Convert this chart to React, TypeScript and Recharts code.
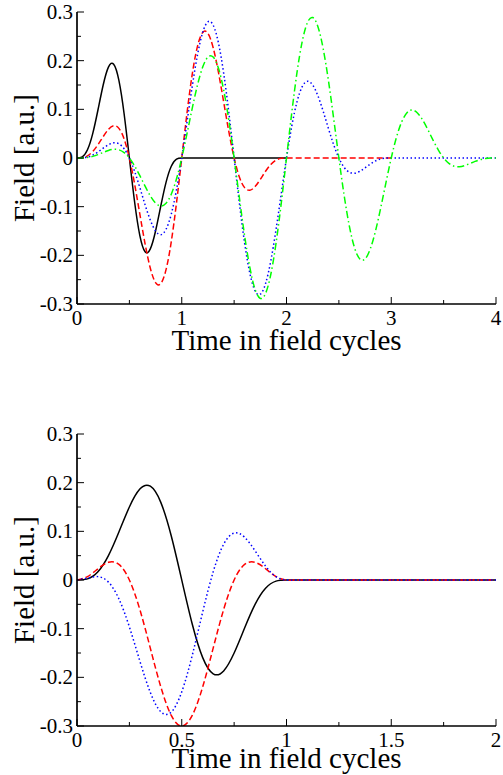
import React from "react";
import { LineChart, Line, XAxis, YAxis } from "recharts";

const FONT = '"Liberation Serif", "Times New Roman", Times, serif';

// time axis in field cycles (upper panel 0..4, lower panel 0..2)
const topTime = [
  0, 0.05, 0.1, 0.15, 0.2, 0.25, 0.3, 0.35, 0.4, 0.45, 0.5, 0.55, 0.6, 0.65, 0.7, 0.75, 0.8, 0.85, 0.9, 0.95,
  1, 1.05, 1.1, 1.15, 1.2, 1.25, 1.3, 1.35, 1.4, 1.45, 1.5, 1.55, 1.6, 1.65, 1.7, 1.75, 1.8, 1.85, 1.9, 1.95,
  2, 2.05, 2.1, 2.15, 2.2, 2.25, 2.3, 2.35, 2.4, 2.45, 2.5, 2.55, 2.6, 2.65, 2.7, 2.75, 2.8, 2.85, 2.9, 2.95,
  3, 3.05, 3.1, 3.15, 3.2, 3.25, 3.3, 3.35, 3.4, 3.45, 3.5, 3.55, 3.6, 3.65, 3.7, 3.75, 3.8, 3.85, 3.9, 3.95,
  4,
];
const bottomTime = [
  0, 0.05, 0.1, 0.15, 0.2, 0.25, 0.3, 0.35, 0.4, 0.45, 0.5, 0.55, 0.6, 0.65, 0.7, 0.75, 0.8, 0.85, 0.9, 0.95,
  1, 1.05, 1.1, 1.15, 1.2, 1.25, 1.3, 1.35, 1.4, 1.45, 1.5, 1.55, 1.6, 1.65, 1.7, 1.75, 1.8, 1.85, 1.9, 1.95,
  2,
];

// upper panel: 1, 2, 3 and 4 cycle pulses
const topOneCycle = [
  0, 0.00227, 0.01684, 0.05002, 0.09858, 0.15, 0.18675, 0.19268, 0.1595, 0.09043,
  0, -0.09043, -0.1595, -0.19268, -0.18675, -0.15, -0.09858, -0.05002, -0.01684, -0.00227,
  0, 0, 0, 0, 0, 0, 0, 0, 0, 0, 0, 0, 0, 0, 0, 0, 0, 0, 0, 0, 0,
];
const topTwoCycle = [
  0, 0.00057, 0.00431, 0.01323, 0.02725, 0.04393, 0.05881, 0.06626, 0.06092, 0.0391,
  0, -0.0536, -0.11542, -0.17644, -0.22652, -0.25607, -0.25808, -0.22947, -0.17202, -0.09213,
  0, 0.09213, 0.17202, 0.22947, 0.25808, 0.25607, 0.22652, 0.17644, 0.11542, 0.0536,
  0, -0.0391, -0.06092, -0.06626, -0.05881, -0.04393, -0.02725, -0.01323, -0.00431, -0.00057,
  0, 0, 0, 0, 0, 0, 0, 0, 0, 0, 0, 0, 0, 0, 0, 0, 0, 0, 0, 0, 0,
];
const topThreeCycle = [
  0, 0.00025, 0.00193, 0.00594, 0.01233, 0.0201, 0.02725, 0.03117, 0.02917, 0.01911,
  0, -0.0275, -0.06092, -0.09612, -0.12775, -0.15, -0.15758, -0.14658, -0.11542, -0.0652,
  0, 0.07359, 0.14717, 0.21153, 0.25808, 0.2799, 0.273, 0.23676, 0.17441, 0.09245,
  0, -0.09245, -0.17441, -0.23676, -0.273, -0.2799, -0.25808, -0.21153, -0.14717, -0.07359,
  0, 0.0652, 0.11542, 0.14658, 0.15758, 0.15, 0.12775, 0.09612, 0.06092, 0.0275,
  0, -0.01911, -0.02917, -0.03117, -0.02725, -0.0201, -0.01233, -0.00594, -0.00193, -0.00025,
  0, 0, 0, 0, 0, 0, 0, 0, 0, 0, 0, 0, 0, 0, 0, 0, 0, 0, 0, 0, 0,
];
const topFourCycle = [
  0, 0.00014, 0.00109, 0.00335, 0.00698, 0.01142, 0.01555, 0.01788, 0.01684, 0.01111,
  0, -0.01625, -0.03635, -0.05795, -0.0779, -0.0926, -0.09858, -0.09302, -0.07438, -0.04271,
  0, 0.04999, 0.10196, 0.14968, 0.18675, 0.2074, 0.20743, 0.18476, 0.14, 0.07645,
  0, -0.08159, -0.1595, -0.22482, -0.26978, -0.28858, -0.27835, -0.23935, -0.17525, -0.09256,
  0, 0.09256, 0.17525, 0.23935, 0.27835, 0.28858, 0.26978, 0.22482, 0.1595, 0.08159,
  0, -0.07645, -0.14, -0.18476, -0.20743, -0.2074, -0.18675, -0.14968, -0.10196, -0.04999,
  0, 0.04271, 0.07438, 0.09302, 0.09858, 0.0926, 0.0779, 0.05795, 0.03635, 0.01625,
  0, -0.01111, -0.01684, -0.01788, -0.01555, -0.01142, -0.00698, -0.00335, -0.00109, -0.00014,
  0,
];

// lower panel: one cycle pulse, three carrier phases
const bottomSine = [
  0, 0.00227, 0.01684, 0.05002, 0.09858, 0.15, 0.18675, 0.19268, 0.1595, 0.09043,
  0, -0.09043, -0.1595, -0.19268, -0.18675, -0.15, -0.09858, -0.05002, -0.01684, -0.00227,
  0, 0, 0, 0, 0, 0, 0, 0, 0, 0, 0, 0, 0, 0, 0, 0, 0, 0, 0, 0, 0,
];
const bottomCosine = [
  0, 0.00698, 0.02318, 0.03634, 0.03203, 0, -0.06067, -0.14, -0.21952, -0.27835,
  -0.3, -0.27835, -0.21952, -0.14, -0.06067, 0, 0.03203, 0.03634, 0.02318, 0.00698,
  0, 0, 0, 0, 0, 0, 0, 0, 0, 0, 0, 0, 0, 0, 0, 0, 0, 0, 0, 0, 0,
];
const bottomShifted = [
  0, 0.00389, 0.00693, -0.00432, -0.03883, -0.09642, -0.1665, -0.2311, -0.2707, -0.27135,
  -0.2298, -0.15508, -0.06564, 0.01662, 0.07355, 0.09642, 0.0879, 0.05999, 0.02858, 0.00681,
  0, 0, 0, 0, 0, 0, 0, 0, 0, 0, 0, 0, 0, 0, 0, 0, 0, 0, 0, 0, 0,
];

const topXTicks = [0, 0.5, 1, 1.5, 2, 2.5, 3, 3.5, 4];
const bottomXTicks = [0, 0.25, 0.5, 0.75, 1, 1.25, 1.5, 1.75, 2];
const yTicks = [-0.3, -0.25, -0.2, -0.15, -0.1, -0.05, 0, 0.05, 0.1, 0.15, 0.2, 0.25, 0.3];

const topRows = topTime.map((t, i) => ({
  t,
  a: topOneCycle[i] ?? null,
  b: topTwoCycle[i] ?? null,
  c: topThreeCycle[i] ?? null,
  d: topFourCycle[i] ?? null,
}));
const bottomRows = bottomTime.map((t, i) => ({
  t,
  a: bottomSine[i] ?? null,
  b: bottomCosine[i] ?? null,
  c: bottomShifted[i] ?? null,
}));

const STYLES: Record<string, { stroke: string; dash?: string }> = {
  a: { stroke: "#000000" },
  b: { stroke: "#ff0000", dash: "6 3" },
  c: { stroke: "#0000ff", dash: "1.5 2.5" },
  d: { stroke: "#00ff00", dash: "7 3 1.5 3" },
};

const MAJOR = 7;
const MINOR = 4;
const AXIS = { stroke: "#000", strokeWidth: 1.7 };

const onStep = (v: number, step: number) => Math.abs(v / step - Math.round(v / step)) < 1e-6;
const fmt = (v: number) => String(Number(v.toFixed(2)));

const bottomTick = (step: number) => (props: any) => {
  const { x, y, payload } = props;
  const major = onStep(payload.value, step);
  return (
    <g>
      <line x1={x} y1={y} x2={x} y2={y - (major ? MAJOR : MINOR)} stroke="#000" strokeWidth={1} />
      {major && (
        <text x={x} y={y + 21} textAnchor="middle" fontFamily={FONT} fontSize={21} fill="#000">
          {fmt(payload.value)}
        </text>
      )}
    </g>
  );
};

const topTick = (step: number) => (props: any) => {
  const { x, y, payload } = props;
  const major = onStep(payload.value, step);
  return <line x1={x} y1={y} x2={x} y2={y + (major ? MAJOR : MINOR)} stroke="#000" strokeWidth={1} />;
};

const leftTick = (props: any) => {
  const { x, y, payload } = props;
  const major = onStep(payload.value, 0.1);
  return (
    <g>
      <line x1={x} y1={y} x2={x + (major ? MAJOR : MINOR)} y2={y} stroke="#000" strokeWidth={1} />
      {major && (
        <text x={x - 4} y={y + 7} textAnchor="end" fontFamily={FONT} fontSize={21} fill="#000">
          {fmt(payload.value)}
        </text>
      )}
    </g>
  );
};

const rightTick = (props: any) => {
  const { x, y, payload } = props;
  const major = onStep(payload.value, 0.1);
  return <line x1={x} y1={y} x2={x - (major ? MAJOR : MINOR)} y2={y} stroke="#000" strokeWidth={1} />;
};

const XTitle = (props: any) => {
  const vb = props.viewBox;
  return (
    <text x={vb.x + vb.width / 2} y={vb.y + props.drop} textAnchor="middle" fontFamily={FONT} fontSize={29} fill="#000">
      Time in field cycles
    </text>
  );
};

const YTitle = (props: any) => {
  const vb = props.viewBox;
  const cy = vb.y + vb.height / 2;
  return (
    <text x={34} y={cy} transform={`rotate(-90 34 ${cy})`} textAnchor="middle" fontFamily={FONT} fontSize={29} fill="#000">
      Field [a.u.]
    </text>
  );
};

function Panel({
  rows,
  keys,
  xMax,
  xTicks,
  xMajor,
  top,
  height,
  titleDrop,
}: {
  rows: any[];
  keys: string[];
  xMax: number;
  xTicks: number[];
  xMajor: number;
  top: number;
  height: number;
  titleDrop: number;
}) {
  return (
    <div style={{ position: "absolute", left: 0, top, width: 503, height }}>
      <LineChart width={503} height={height} data={rows} margin={{ top: 12, right: 7, bottom: 0, left: 0 }}>
        <XAxis
          xAxisId="bottom"
          dataKey="t"
          type="number"
          domain={[0, xMax]}
          ticks={xTicks}
          interval={0}
          height={height - 12 - 292}
          tickSize={0}
          tickMargin={0}
          tickLine={false}
          axisLine={AXIS}
          tick={bottomTick(xMajor)}
          label={<XTitle drop={titleDrop} />}
          allowDataOverflow
        />
        <XAxis
          xAxisId="top"
          orientation="top"
          dataKey="t"
          type="number"
          domain={[0, xMax]}
          ticks={xTicks}
          interval={0}
          height={0}
          tickSize={0}
          tickMargin={0}
          tickLine={false}
          axisLine={AXIS}
          tick={topTick(xMajor)}
          allowDataOverflow
        />
        <YAxis
          yAxisId="left"
          type="number"
          domain={[-0.3, 0.3]}
          ticks={yTicks}
          interval={0}
          width={77}
          tickSize={0}
          tickMargin={0}
          tickLine={false}
          axisLine={AXIS}
          tick={leftTick}
          label={<YTitle />}
          allowDataOverflow
        />
        <YAxis
          yAxisId="right"
          orientation="right"
          type="number"
          domain={[-0.3, 0.3]}
          ticks={yTicks}
          interval={0}
          width={0}
          tickSize={0}
          tickMargin={0}
          tickLine={false}
          axisLine={AXIS}
          tick={rightTick}
          allowDataOverflow
        />
        {keys.map((k) => (
          <Line
            key={k}
            xAxisId="bottom"
            yAxisId="left"
            dataKey={k}
            type="natural"
            stroke={STYLES[k].stroke}
            strokeDasharray={STYLES[k].dash}
            strokeWidth={1.5}
            dot={false}
            activeDot={false}
            isAnimationActive={false}
          />
        ))}
      </LineChart>
    </div>
  );
}

export default function App() {
  return (
    <div style={{ position: "absolute", left: 0, top: 0, width: 503, height: 775, overflow: "hidden", background: "#fff" }}>
      <Panel rows={topRows} keys={["a", "b", "c", "d"]} xMax={4} xTicks={topXTicks} xMajor={1} top={0} height={360} titleDrop={46} />
      <Panel rows={bottomRows} keys={["a", "b", "c"]} xMax={2} xTicks={bottomXTicks} xMajor={0.5} top={422} height={353} titleDrop={42} />
    </div>
  );
}
